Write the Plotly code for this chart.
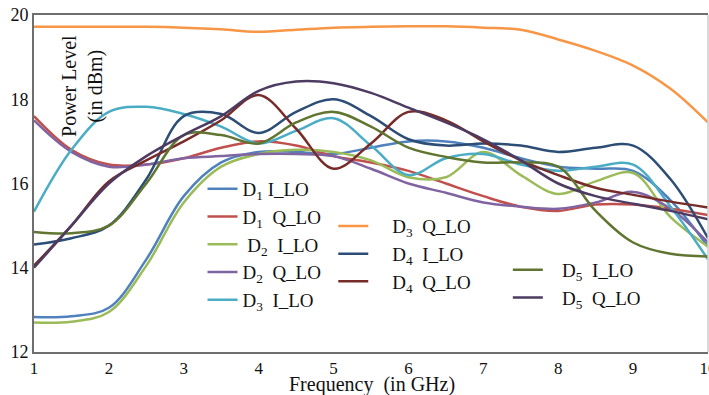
import plotly.graph_objects as go

freq = [1, 1.5, 2, 2.5, 3, 3.5, 4, 4.5, 5, 5.5, 6, 6.5, 7, 7.5, 8, 8.5, 9, 9.5, 10]

d1_i = [12.83, 12.85, 13.05, 14.2, 15.7, 16.5, 16.75, 16.75, 16.7, 16.85, 17.0, 17.0, 16.85, 16.6, 16.4, 16.35, 16.3, 15.6, 14.5]
d1_q = [17.6, 16.8, 16.45, 16.45, 16.6, 16.85, 17.0, 16.9, 16.65, 16.5, 16.3, 16.0, 15.7, 15.45, 15.35, 15.5, 15.5, 15.4, 15.25]
d2_i = [12.7, 12.72, 12.95, 14.05, 15.55, 16.4, 16.7, 16.8, 16.75, 16.55, 16.15, 16.15, 16.75, 16.2, 15.75, 16.05, 16.25, 15.2, 14.5]
d2_q = [17.5, 16.75, 16.4, 16.45, 16.6, 16.65, 16.7, 16.7, 16.65, 16.35, 16.0, 15.78, 15.55, 15.45, 15.4, 15.55, 15.8, 15.4, 14.6]
d3_i = [15.33, 16.8, 17.7, 17.82, 17.65, 17.35, 16.95, 17.25, 17.55, 16.9, 16.2, 16.6, 16.7, 16.45, 16.3, 16.4, 16.45, 15.45, 14.2]
d3_q = [19.72, 19.72, 19.72, 19.72, 19.7, 19.66, 19.6, 19.65, 19.7, 19.72, 19.73, 19.73, 19.7, 19.65, 19.42, 19.15, 18.8, 18.25, 17.45]
d4_i = [14.55, 14.7, 15.0, 16.1, 17.6, 17.65, 17.2, 17.7, 18.0, 17.6, 17.05, 16.9, 16.95, 16.9, 16.75, 16.85, 16.9, 16.1, 14.7]
d4_q = [14.05, 15.0, 16.05, 16.55, 17.0, 17.5, 18.1, 17.3, 16.35, 16.95, 17.7, 17.5, 17.0, 16.55, 16.2, 15.9, 15.73, 15.57, 15.43]
d5_i = [14.85, 14.82, 15.0, 16.0, 17.15, 17.15, 16.95, 17.45, 17.7, 17.35, 16.85, 16.63, 16.5, 16.5, 16.4, 15.35, 14.6, 14.33, 14.27]
d5_q = [14.0, 15.0, 16.0, 16.65, 17.15, 17.6, 18.2, 18.42, 18.38, 18.15, 17.8, 17.45, 17.05, 16.55, 16.0, 15.7, 15.52, 15.35, 15.15]

names = ["D<sub>1</sub> I_LO", "D<sub>1</sub>  Q_LO", " D<sub>2</sub>  I_LO", "D<sub>2</sub>  Q_LO", "D<sub>3</sub>  I_LO",
         "    D<sub>3</sub>  Q_LO", "    D<sub>4</sub>  I_LO", "    D<sub>4</sub>  Q_LO",
         "   D<sub>5</sub>  I_LO", "   D<sub>5</sub>  Q_LO"]
series = [d1_i, d1_q, d2_i, d2_q, d3_i, d3_q, d4_i, d4_q, d5_i, d5_q]
colors = ["#4F81BD", "#C0504D", "#9BBB59", "#8064A2", "#4BACC6",
          "#F79646", "#2C4D75", "#772C2A", "#5F7530", "#4D3B62"]
legend_ids = ["legend"] * 5 + ["legend2"] * 3 + ["legend3"] * 2

FONT = "Liberation Serif, Times New Roman, serif"

fig = go.Figure()
for n, s, c, lg in zip(names, series, colors, legend_ids):
    fig.add_trace(go.Scatter(x=freq, y=s, name=n, mode="lines",
                             line=dict(color=c, width=2.5, shape="spline", smoothing=1.0),
                             legend=lg, legendgroup=n))

leg_common = dict(bgcolor="rgba(0,0,0,0)", font=dict(family=FONT, size=19, color="#111"),
                  xanchor="left", yanchor="top", tracegroupgap=0, itemwidth=30,
                  traceorder="grouped")

fig.update_layout(
    width=709, height=395,
    margin=dict(l=34, r=1, t=15, b=43, autoexpand=False),
    paper_bgcolor="white", plot_bgcolor="white",
    font=dict(family=FONT, size=16, color="#111"),
    showlegend=True,
    legend=dict(x=0.25, y=0.54, **leg_common),
    legend2=dict(x=0.444, y=0.43, **leg_common),
    legend3=dict(x=0.703, y=0.30, **leg_common),
    xaxis=dict(range=[1, 10], dtick=1, showgrid=False, zeroline=False,
               showline=True, linecolor="#6e6e6e", linewidth=2, mirror=True,
               ticks="", ticklabeloverflow="allow", automargin=False,
               tickfont=dict(family=FONT, size=17, color="#111")),
    yaxis=dict(range=[12, 20], dtick=2, showgrid=False, zeroline=False,
               showline=True, linecolor="#6e6e6e", linewidth=2, automargin=False,
               ticks="", tickfont=dict(family=FONT, size=18, color="#111")),
    annotations=[
        dict(text="Power Level<br>(in dBm)", textangle=-90, xref="paper", yref="paper",
             x=0.073, y=0.79, xanchor="center", yanchor="middle", showarrow=False,
             font=dict(family=FONT, size=20, color="#111")),
        dict(text="Frequency  (in GHz)", xref="paper", yref="paper",
             x=0.502, y=-0.097, xanchor="center", yanchor="middle", showarrow=False,
             font=dict(family=FONT, size=20, color="#111")),
    ],
    shapes=[dict(type="line", xref="paper", yref="paper", x0=1, x1=1, y0=0, y1=1,
                 line=dict(color="#cccccc", width=1.5))],
)

fig.write_html("out.html")
